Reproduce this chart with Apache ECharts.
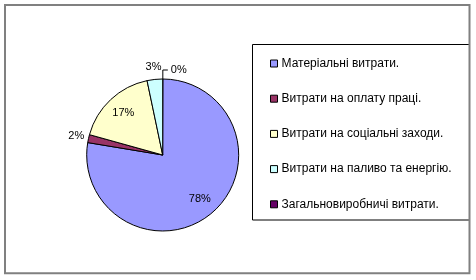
<!DOCTYPE html>
<html>
<head>
<meta charset="utf-8">
<script src="https://cdn.jsdelivr.net/npm/echarts@6/dist/echarts.min.js"></script>
<style>
html,body{margin:0;padding:0;background:#fff;}
#chart{width:476px;height:280px;}
</style>
</head>
<body>
<div id="chart"></div>
<script>
// Data (percent shares), legend order
const categories = [
  'Матеріальні витрати.',
  'Витрати на оплату праці.',
  'Витрати на соціальні заходи.',
  'Витрати на паливо та енергію.',
  'Загальновиробничі витрати.'
];
const values = [77.6, 1.7, 17.4, 3.3, 0.05];
const colors = ['#9999FF', '#993366', '#FFFFCC', '#CCFFFF', '#660066'];

// Which slice labels go where
const innerLabels = [0, 2];   // inside the pie
const ringLabels = [1, 3];    // just outside the pie, no leader line
const leaderLabels = [4];     // with a leader line

const FONT = 'Liberation Sans, Arial, sans-serif';
const CENTER = [162.7, 155];
const R = 76;

// the (near-)zero slice sits at 12 o'clock; drawing it first keeps its label on the right of the top
const order = [4, 0, 1, 2, 3];

function buildData(showIdx, ghost) {
  return order.map(i => ({
    name: categories[i],
    value: values[i],
    itemStyle: ghost ? { color: 'rgba(0,0,0,0)', borderWidth: 0 } : { color: colors[i] },
    label: { show: showIdx.indexOf(i) >= 0 },
    labelLine: { show: showIdx.indexOf(i) >= 0 }
  }));
}

const labelText = { color: '#000', fontFamily: FONT, fontSize: 11 };

const chart = echarts.init(document.getElementById('chart'), null, { renderer: 'canvas' });
chart.setOption({
  animation: false,
  backgroundColor: '#fff',
  graphic: [
    { type: 'rect', shape: { x: 5, y: 5, width: 464.5, height: 268.3 },
      style: { fill: 'none', stroke: '#808080', lineWidth: 2 }, z: 100, silent: true },
    { type: 'rect', shape: { x: 252.5, y: 44.5, width: 217, height: 175.5 },
      style: { fill: 'none', stroke: '#000', lineWidth: 1 }, z: 99, silent: true }
  ],
  legend: {
    orient: 'vertical',
    left: 270,
    top: 56.5,
    padding: 0,
    itemWidth: 7,
    itemHeight: 7,
    itemGap: 21.2,
    icon: 'rect',
    data: categories,
    itemStyle: { borderColor: '#000', borderWidth: 1 },
    textStyle: { color: '#000', fontFamily: FONT, fontSize: 12, lineHeight: 14, padding: [0, 0, 0, -1] }
  },
  series: [
    {
      type: 'pie',
      center: CENTER,
      radius: [0, R],
      clockwise: true,
      startAngle: 90,
      percentPrecision: 0,
      avoidLabelOverlap: false,
      data: buildData(leaderLabels, false),
      itemStyle: { borderColor: '#000', borderWidth: 1 },
      label: Object.assign({ position: 'outside', formatter: '{d}%', distanceToLabelLine: 3 }, labelText),
      labelLine: { length: 9, length2: 5, lineStyle: { color: '#000', width: 1 } },
      emphasis: { disabled: true }
    },
    {
      type: 'pie',
      center: CENTER,
      radius: [33, R],
      clockwise: true,
      startAngle: 90,
      percentPrecision: 0,
      silent: true,
      data: buildData(innerLabels, true),
      label: Object.assign({ position: 'inside', formatter: '{d}%' }, labelText),
      labelLine: { show: false },
      emphasis: { disabled: true }
    },
    {
      type: 'pie',
      center: CENTER,
      radius: [81, 90],
      clockwise: true,
      startAngle: 90,
      percentPrecision: 0,
      silent: true,
      data: buildData(ringLabels, true),
      label: Object.assign({ position: 'inside', formatter: '{d}%' }, labelText),
      labelLine: { show: false },
      emphasis: { disabled: true }
    }
  ]
});
</script>
</body>
</html>
